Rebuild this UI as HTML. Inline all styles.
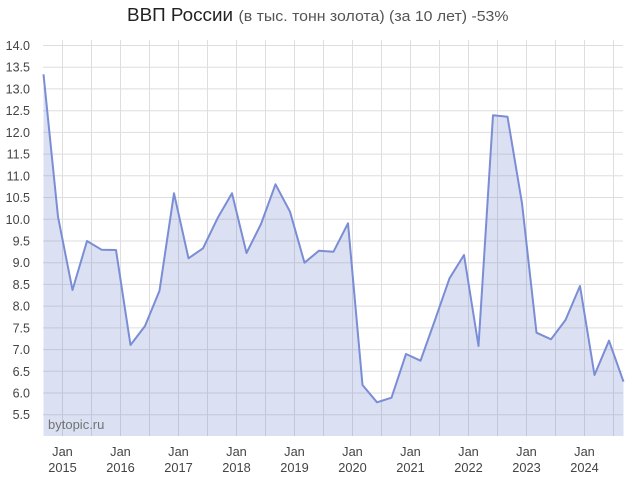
<!DOCTYPE html>
<html>
<head>
<meta charset="utf-8">
<style>
  html,body{margin:0;padding:0;background:#fff;}
  svg{display:block;}
  text{font-family:"Liberation Sans", "DejaVu Sans", sans-serif;}
</style>
</head>
<body>
<svg width="638" height="477" viewBox="0 0 638 477" xmlns="http://www.w3.org/2000/svg">
  <rect width="638" height="477" fill="#fff"/>
  <!-- Title -->
  <text x="127" y="21" font-size="18.5" fill="#222" textLength="106" lengthAdjust="spacingAndGlyphs">ВВП России</text>
  <text x="238.5" y="21" font-size="14.6" fill="#555" textLength="270" lengthAdjust="spacingAndGlyphs">(в тыс. тонн золота) (за 10 лет) -53%</text>

  <!-- horizontal gridlines -->
  <g stroke="#dedede" stroke-width="1">
    <line x1="43" x2="623" y1="45.5" y2="45.5"/>
    <line x1="43" x2="623" y1="67.2" y2="67.2"/>
    <line x1="43" x2="623" y1="88.9" y2="88.9"/>
    <line x1="43" x2="623" y1="110.7" y2="110.7"/>
    <line x1="43" x2="623" y1="132.4" y2="132.4"/>
    <line x1="43" x2="623" y1="154.1" y2="154.1"/>
    <line x1="43" x2="623" y1="175.8" y2="175.8"/>
    <line x1="43" x2="623" y1="197.5" y2="197.5"/>
    <line x1="43" x2="623" y1="219.3" y2="219.3"/>
    <line x1="43" x2="623" y1="241.0" y2="241.0"/>
    <line x1="43" x2="623" y1="262.7" y2="262.7"/>
    <line x1="43" x2="623" y1="284.4" y2="284.4"/>
    <line x1="43" x2="623" y1="306.1" y2="306.1"/>
    <line x1="43" x2="623" y1="327.9" y2="327.9"/>
    <line x1="43" x2="623" y1="349.6" y2="349.6"/>
    <line x1="43" x2="623" y1="371.3" y2="371.3"/>
    <line x1="43" x2="623" y1="393.0" y2="393.0"/>
    <line x1="43" x2="623" y1="414.7" y2="414.7"/>
  </g>
  <!-- vertical gridlines -->
  <g stroke="#dedede" stroke-width="1">
    <line y1="40" y2="436" x1="62.5" x2="62.5"/>
    <line y1="40" y2="436" x1="91.5" x2="91.5"/>
    <line y1="40" y2="436" x1="120.5" x2="120.5"/>
    <line y1="40" y2="436" x1="149.5" x2="149.5"/>
    <line y1="40" y2="436" x1="178.5" x2="178.5"/>
    <line y1="40" y2="436" x1="207.5" x2="207.5"/>
    <line y1="40" y2="436" x1="236.5" x2="236.5"/>
    <line y1="40" y2="436" x1="265.5" x2="265.5"/>
    <line y1="40" y2="436" x1="294.5" x2="294.5"/>
    <line y1="40" y2="436" x1="323.5" x2="323.5"/>
    <line y1="40" y2="436" x1="352.5" x2="352.5"/>
    <line y1="40" y2="436" x1="381.5" x2="381.5"/>
    <line y1="40" y2="436" x1="410.5" x2="410.5"/>
    <line y1="40" y2="436" x1="439.5" x2="439.5"/>
    <line y1="40" y2="436" x1="468.5" x2="468.5"/>
    <line y1="40" y2="436" x1="497.5" x2="497.5"/>
    <line y1="40" y2="436" x1="526.5" x2="526.5"/>
    <line y1="40" y2="436" x1="555.5" x2="555.5"/>
    <line y1="40" y2="436" x1="584.5" x2="584.5"/>
    <line y1="40" y2="436" x1="613.5" x2="613.5"/>
  </g>

  <!-- area fill -->
  <polygon fill="rgb(110,135,205)" fill-opacity="0.25" points="
    43.5,436
    43.5,74.3 58,216.7 72.5,290 87,241 101.5,249.7 116,250 130.5,345 145,326 159.5,290.7 174,193.3
    188.5,258.3 203,248.3 217.5,218.3 232,193.3 246.5,253 261,224 275.5,184.3 290,211.7 304.5,262.7 319,250.7
    333.5,251.7 348,223.3 362.5,385 377,402.3 391.5,397.7 406,354 420.5,360.7 435,320 449.5,278.3 464,255
    478.5,346 493,115.3 507.5,116.7 522,203.3 536.5,332.7 551,339.3 565.5,320 580,286 594.5,375 609,340.7
    623.5,381.7
    623.5,436"/>
  <!-- line -->
  <polyline fill="none" stroke="#7a8dd5" stroke-width="2" stroke-linejoin="round" points="
    43.5,74.3 58,216.7 72.5,290 87,241 101.5,249.7 116,250 130.5,345 145,326 159.5,290.7 174,193.3
    188.5,258.3 203,248.3 217.5,218.3 232,193.3 246.5,253 261,224 275.5,184.3 290,211.7 304.5,262.7 319,250.7
    333.5,251.7 348,223.3 362.5,385 377,402.3 391.5,397.7 406,354 420.5,360.7 435,320 449.5,278.3 464,255
    478.5,346 493,115.3 507.5,116.7 522,203.3 536.5,332.7 551,339.3 565.5,320 580,286 594.5,375 609,340.7
    623.5,381.7"/>

  <!-- watermark -->
  <text x="48" y="429" font-size="13" fill="#666" fill-opacity="0.9">bytopic.ru</text>

  <!-- y labels -->
  <g font-size="12.5" fill="#444" text-anchor="end">
    <text x="30" y="50">14.0</text>
    <text x="30" y="71.7">13.5</text>
    <text x="30" y="93.4">13.0</text>
    <text x="30" y="115.2">12.5</text>
    <text x="30" y="136.9">12.0</text>
    <text x="30" y="158.6">11.5</text>
    <text x="30" y="180.3">11.0</text>
    <text x="30" y="202">10.5</text>
    <text x="30" y="223.8">10.0</text>
    <text x="30" y="245.5">9.5</text>
    <text x="30" y="267.2">9.0</text>
    <text x="30" y="288.9">8.5</text>
    <text x="30" y="310.6">8.0</text>
    <text x="30" y="332.4">7.5</text>
    <text x="30" y="354.1">7.0</text>
    <text x="30" y="375.8">6.5</text>
    <text x="30" y="397.5">6.0</text>
    <text x="30" y="419.2">5.5</text>
  </g>

  <!-- x labels -->
  <g font-size="12.8" fill="#444" text-anchor="middle">
    <text x="62.5" y="456">Jan</text><text x="62.5" y="472">2015</text>
    <text x="120.5" y="456">Jan</text><text x="120.5" y="472">2016</text>
    <text x="178.5" y="456">Jan</text><text x="178.5" y="472">2017</text>
    <text x="236.5" y="456">Jan</text><text x="236.5" y="472">2018</text>
    <text x="294.5" y="456">Jan</text><text x="294.5" y="472">2019</text>
    <text x="352.5" y="456">Jan</text><text x="352.5" y="472">2020</text>
    <text x="410.5" y="456">Jan</text><text x="410.5" y="472">2021</text>
    <text x="468.5" y="456">Jan</text><text x="468.5" y="472">2022</text>
    <text x="526.5" y="456">Jan</text><text x="526.5" y="472">2023</text>
    <text x="584.5" y="456">Jan</text><text x="584.5" y="472">2024</text>
  </g>
</svg>
</body>
</html>
